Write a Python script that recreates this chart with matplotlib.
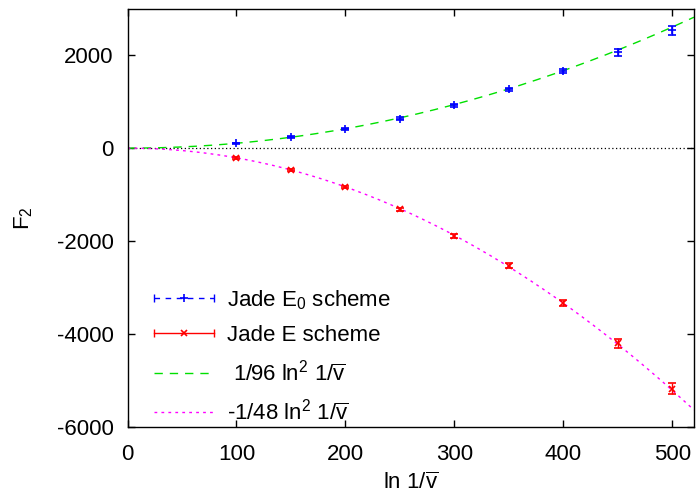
import numpy as np
import matplotlib
matplotlib.use('Agg')
import matplotlib.pyplot as plt
from matplotlib.lines import Line2D
from matplotlib.legend_handler import HandlerLine2D, HandlerTuple

plt.rcParams['font.family'] = ['Liberation Sans', 'DejaVu Sans']
plt.rcParams['mathtext.fontset'] = 'custom'
plt.rcParams['mathtext.rm'] = 'Liberation Sans'
plt.rcParams['mathtext.it'] = 'Liberation Sans'
plt.rcParams['font.size'] = 16
plt.rcParams['axes.unicode_minus'] = False

# 數據
x_vals = [100, 150, 200, 250, 300, 350, 400, 450, 500]
e0_vals = [105, 240, 413, 635, 925, 1262, 1656, 2064, 2538]
e0_err = [10, 15, 20, 25, 30, 40, 50, 75, 95]
e_vals = [-210, -470, -840, -1320, -1886, -2530, -3326, -4200, -5182]
e_err = [15, 20, 25, 30, 40, 50, 65, 90, 118]

# 曲線係數: F2 = c * ln^2 1/sqrt(v)
coef_up = 1 / 96
coef_down = -1 / 48

lbl_e0 = r'Jade E$_0$ scheme'
lbl_e = 'Jade E scheme'
lbl_up = r' 1/96 ln$^2$ 1/$\overline{\rm v}$'
lbl_down = r'-1/48 ln$^2$ 1/$\overline{\rm v}$'

GREEN = '#00e000'
MAGENTA = '#ff00ff'

fig = plt.figure(figsize=(6.96, 4.95), dpi=100)
ax = fig.add_axes([0.1832, 0.1374, 0.8138, 0.845])

xs = np.linspace(0, 520, 300)
ax.axhline(0, color='black', lw=0.9, ls=(0, (1, 2)), zorder=1)
ax.plot(xs, coef_up * xs ** 2, color=GREEN, lw=1.0, ls=(0, (6, 5)), zorder=2)
ax.plot(xs, coef_down * xs ** 2, color=MAGENTA, lw=1.0, ls=(0, (2, 3)), zorder=2)

ax.errorbar(x_vals, e0_vals, yerr=e0_err, fmt='+', color='blue', ms=6, mew=1.2,
            elinewidth=1.0, capsize=3, capthick=1.0, zorder=3)
ax.errorbar(x_vals, e_vals, yerr=e_err, fmt='x', color='red', ms=5, mew=1.2,
            elinewidth=1.0, capsize=3, capthick=1.0, zorder=3)

ax.set_xlim(0, 520)
ax.set_ylim(-6000, 3000)
ax.set_xticks([0, 100, 200, 300, 400, 500])
ax.set_yticks([-6000, -4000, -2000, 0, 2000])
ax.tick_params(direction='in', length=5, width=1, top=True, right=True)
ax.tick_params(axis='x', pad=12)
ax.tick_params(axis='y', pad=10)
for s in ax.spines.values():
    s.set_linewidth(1.0)

ax.set_xlabel(r'ln 1/$\overline{\rm v}$', labelpad=6)
ax.set_ylabel(r'F$_2$', labelpad=16)

# 圖例: 誤差棒樣式 |--+--|
cap_e0 = Line2D([], [], color='blue', ls=(0, (4, 4)), lw=1.0, marker='|', ms=6, mew=1.0)
mid_e0 = Line2D([], [], color='blue', ls='None', marker='+', ms=6, mew=1.2)
cap_e = Line2D([], [], color='red', ls='-', lw=1.0, marker='|', ms=6, mew=1.0)
mid_e = Line2D([], [], color='red', ls='None', marker='x', ms=5, mew=1.2)
h_up = Line2D([], [], color=GREEN, lw=1.0, ls=(0, (6, 5)))
h_down = Line2D([], [], color=MAGENTA, lw=1.0, ls=(0, (2, 3)))

cap_handler = HandlerLine2D(numpoints=2, marker_pad=0)
ax.legend([(cap_e0, mid_e0), (cap_e, mid_e), h_up, h_down],
          [lbl_e0, lbl_e, lbl_up, lbl_down], loc='lower left',
          bbox_to_anchor=(0.012, -0.042), frameon=False, numpoints=1,
          handlelength=2.7, labelspacing=0.6, handletextpad=0.55,
          handler_map={cap_e0: cap_handler, cap_e: cap_handler,
                       tuple: HandlerTuple(ndivide=1)})

fig.savefig('out.png', dpi=100)
